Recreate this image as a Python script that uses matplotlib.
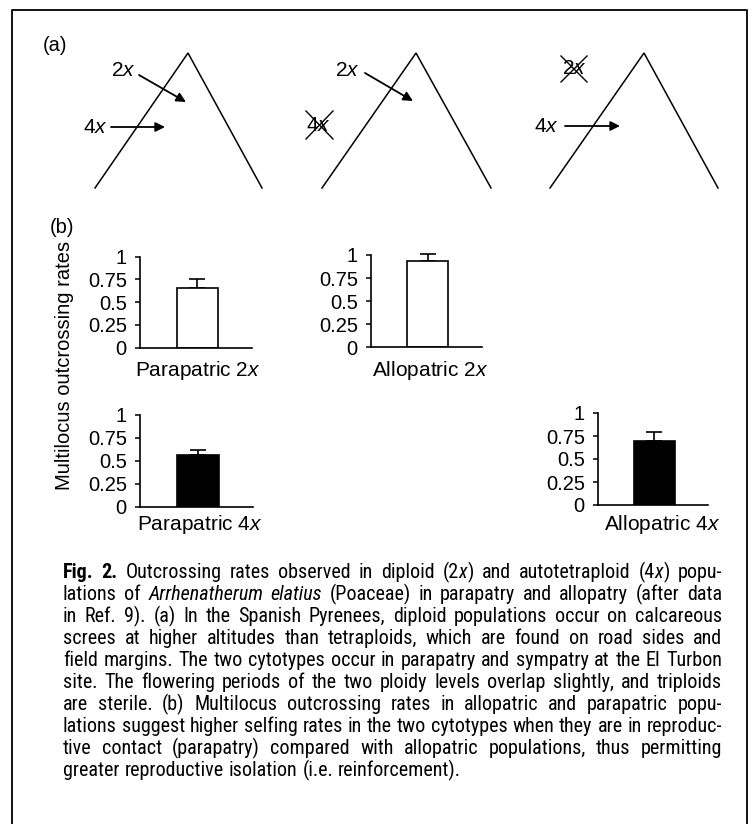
import matplotlib
matplotlib.use('Agg')
import matplotlib.pyplot as plt
import logging
logging.getLogger('matplotlib.font_manager').setLevel(logging.ERROR)

plt.rcParams['font.family'] = ['Liberation Sans', 'DejaVu Sans']
plt.rcParams['mathtext.fontset'] = 'custom'
plt.rcParams['mathtext.rm'] = 'Liberation Sans'
plt.rcParams['mathtext.it'] = 'Liberation Sans:italic'

# ---------------- data ----------------
categories = ['Parapatric 2x', 'Allopatric 2x', 'Parapatric 4x', 'Allopatric 4x']
rates = [0.66, 0.935, 0.56, 0.70]
errors = [0.09, 0.075, 0.06, 0.09]
bar_colors = ['white', 'white', 'black', 'black']
tick_values = [0, 0.25, 0.5, 0.75, 1]
tick_labels = ['0', '0.25', '0.5', '0.75', '1']
y_label = 'Multilocus outcrossing rates'

caption_lines = [
    "*Fig. 2.* Outcrossing rates observed in diploid (2_x_) and autotetraploid (4_x_) popu-",
    "lations of _Arrhenatherum elatius_ (Poaceae) in parapatry and allopatry (after data",
    "in Ref. 9). (a) In the Spanish Pyrenees, diploid populations occur on calcareous",
    "screes at higher altitudes than tetraploids, which are found on road sides and",
    "field margins. The two cytotypes occur in parapatry and sympatry at the El Turbon",
    "site. The flowering periods of the two ploidy levels overlap slightly, and triploids",
    "are sterile. (b) Multilocus outcrossing rates in allopatric and parapatric popu-",
    "lations suggest higher selfing rates in the two cytotypes when they are in reproduc-",
    "tive contact (parapatry) compared with allopatric populations, thus permitting",
    "greater reproductive isolation (i.e. reinforcement).",
]

W, H = 754, 824
fig = plt.figure(figsize=(W / 100, H / 100), dpi=100)
ax0 = fig.add_axes([0, 0, 1, 1])
ax0.set_xlim(0, W)
ax0.set_ylim(H, 0)
ax0.axis('off')

# frame
ax0.plot([11.5, 11.5, 747, 747], [824, 9.5, 9.5, 824], color='black', lw=1.3)

# ---------------- panel (a) ----------------
ax0.text(55, 45, '(a)', fontsize=14.5, ha='center', va='center')
triangles = [(95, 188, 262), (322, 416, 491), (550, 644, 718)]
for l, a, r in triangles:
    ax0.plot([l, a, r], [188, 53, 188], color='black', lw=1.1, solid_joinstyle='miter')

def lab(s):
    return s[:-1] + r'$\it{' + s[-1] + '}$'

def arrow(x1, y1, x2, y2):
    ax0.annotate('', xy=(x2, y2), xytext=(x1, y1),
                 arrowprops=dict(arrowstyle='-|>', lw=1.3, color='black',
                                 mutation_scale=14, shrinkA=0, shrinkB=0))

def cross(xa, ya, xb, yb):
    ax0.plot([xa, xb], [ya, yb], color='black', lw=1.0)
    ax0.plot([xa, xb], [yb, ya], color='black', lw=1.0)

fs_lab = 15
# triangle 1
ax0.text(123, 70, lab('2x'), fontsize=fs_lab, ha='center', va='center')
arrow(139, 75, 186, 102)
ax0.text(95, 127, lab('4x'), fontsize=fs_lab, ha='center', va='center')
arrow(111, 127, 165, 127)
# triangle 2
ax0.text(347, 70, lab('2x'), fontsize=fs_lab, ha='center', va='center')
arrow(365, 73, 413, 101)
ax0.text(318, 125, lab('4x'), fontsize=fs_lab, ha='center', va='center')
cross(306, 111, 333, 139)
# triangle 3
ax0.text(574, 68, lab('2x'), fontsize=fs_lab, ha='center', va='center')
cross(561, 56, 587, 82)
ax0.text(546, 126, lab('4x'), fontsize=fs_lab, ha='center', va='center')
arrow(565, 126, 620, 126)

# ---------------- panel (b) ----------------
ax0.text(62, 227, '(b)', fontsize=14.5, ha='center', va='center')
ax0.text(64, 365, y_label, rotation=90, fontsize=14.5, ha='center', va='center')

axes_boxes = [(140, 256.7, 112, 91.0), (371, 255.0, 111, 92.3),
              (140, 415.0, 113, 91.7), (598, 413.0, 110, 92.0)]
label_pos = [(198, 370), (430, 370), (200, 525), (662, 525)]

for i in range(4):
    x0, top, w, h = axes_boxes[i]
    ax = fig.add_axes([x0 / W, 1 - (top + h) / H, w / W, h / H])
    ax.bar([0], [rates[i]], width=1, color=bar_colors[i], edgecolor='black', lw=1.2, zorder=2)
    ax.errorbar([0], [rates[i]], yerr=[[0], [errors[i]]], fmt='none', ecolor='black',
                elinewidth=1.2, capsize=6, capthick=1.2, zorder=1, clip_on=False)
    ax.set_xlim(-1.38, 1.32)
    ax.set_ylim(0, 1)
    ax.set_facecolor('none')
    for s in ['top', 'right']:
        ax.spines[s].set_visible(False)
    for s in ['left', 'bottom']:
        ax.spines[s].set_linewidth(1.2)
    ax.set_xticks([])
    ax.set_yticks(tick_values)
    ax.set_yticklabels(tick_labels)
    ax.tick_params(axis='y', direction='out', length=3.5, width=1.1, labelsize=14.5, pad=6)
    lx, ly = label_pos[i]
    ax0.text(lx, ly, lab(categories[i]), fontsize=15, ha='center', va='center')

# ---------------- caption (justified) ----------------
cap_font = ['Roboto Condensed', 'Roboto', 'DejaVu Sans']
x_left, x_right = 63, 722
y_first, dy = 578, 22
renderer = fig.canvas.get_renderer()


def parse_lines(lines):
    bold = False
    italic = False
    out = []
    for line in lines:
        wl = []
        for wd in line.split(' '):
            segs = []
            cur = ''
            for ch in wd:
                if ch in '*_':
                    if cur:
                        segs.append((cur, bold, italic))
                        cur = ''
                    if ch == '*':
                        bold = not bold
                    else:
                        italic = not italic
                else:
                    cur += ch
            if cur:
                segs.append((cur, bold, italic))
            wl.append(segs)
        out.append(wl)
    return out


parsed = parse_lines(caption_lines)


def make_word(segs, y, size):
    items = []
    ww = 0
    for s, b, it in segs:
        t = ax0.text(0, y, s, fontsize=size, family=cap_font,
                     weight='bold' if b else 'normal',
                     style='italic' if it else 'normal',
                     ha='left', va='baseline')
        wpx = t.get_window_extent(renderer).width
        items.append((t, wpx))
        ww += wpx
    return items, ww

# choose the size so the densest justified line still has ~0.22 em spaces
ref_size = 10.0
need = 0
for wl in parsed[:-1]:
    tot = 0
    for segs in wl:
        items, ww = make_word(segs, -100, ref_size)
        tot += ww
        for t, _ in items:
            t.remove()
    tot += (len(wl) - 1) * ref_size * 100 / 72 * 0.22
    need = max(need, tot)
cap_size = min(14.5, ref_size * (x_right - x_left) / need)
space_px = cap_size * 100 / 72 * 0.25

for i, wl in enumerate(parsed):
    y = y_first + i * dy
    word_items = []
    widths = []
    for segs in wl:
        items, ww = make_word(segs, y, cap_size)
        word_items.append(items)
        widths.append(ww)
    if i == len(parsed) - 1:
        gap = space_px
    else:
        gap = (x_right - x_left - sum(widths)) / (len(wl) - 1)
    x = x_left
    for items, ww in zip(word_items, widths):
        xx = x
        for t, wpx in items:
            t.set_x(xx)
            xx += wpx
        x += ww + gap

fig.savefig('out.png', dpi=100)
